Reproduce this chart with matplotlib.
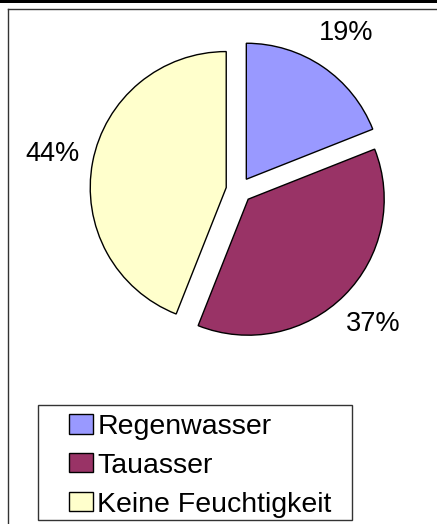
import matplotlib
matplotlib.use('Agg')

import matplotlib.pyplot as plt
from matplotlib.patches import Rectangle
from matplotlib.lines import Line2D

labels = ["Regenwasser", "Tauasser", "Keine Feuchtigkeit"]
shares = [19, 37, 44]
colors = ["#9999FF", "#993366", "#FFFFCC"]

W, H = 437, 524
plt.rcParams['font.family'] = ['Liberation Sans', 'DejaVu Sans']

fig = plt.figure(figsize=(W / 100, H / 100), dpi=100)
fig.patch.set_facecolor("white")

# pixel-based axes so the pie sits where it does in the original
ax = fig.add_axes([0, 0, 1, 1])
wedges, texts, autotexts = ax.pie(
    shares, colors=colors, startangle=90, counterclock=False,
    explode=[13, 13, 13], center=(239, H - 190), radius=136,
    autopct=lambda p: f"{p:.0f}%", pctdistance=1.3, frame=True,
    wedgeprops=dict(edgecolor="black", linewidth=1.0),
    textprops=dict(fontsize=19.5, color="black"))
ax.set_xlim(0, W)
ax.set_ylim(0, H)
ax.axis("off")

# outer frame pieces
fig.add_artist(Rectangle((0, 1 - 3 / H), 1, 3 / H, transform=fig.transFigure,
                         facecolor="black", edgecolor="none"))
fig.add_artist(Line2D([8 / W, 8 / W], [0, 1 - 8.5 / H], transform=fig.transFigure,
                      color="#333333", linewidth=1.0))
fig.add_artist(Line2D([8 / W, 1], [1 - 8.5 / H, 1 - 8.5 / H], transform=fig.transFigure,
                      color="#333333", linewidth=1.0))

# legend box
fig.add_artist(Rectangle((38 / W, 1 - 520 / H), (352 - 38) / W, (520 - 405) / H,
                         transform=fig.transFigure, facecolor="white",
                         edgecolor="#333333", linewidth=1.0))
leg = fig.legend(wedges, labels, loc="upper left",
                 bbox_to_anchor=(69 / W, 1 - 414 / H), borderaxespad=0,
                 borderpad=0, frameon=False, fontsize=20.5,
                 handlelength=0.85, handleheight=0.65, handletextpad=0.15,
                 labelspacing=0.45)

fig.savefig("out.png", dpi=100)
